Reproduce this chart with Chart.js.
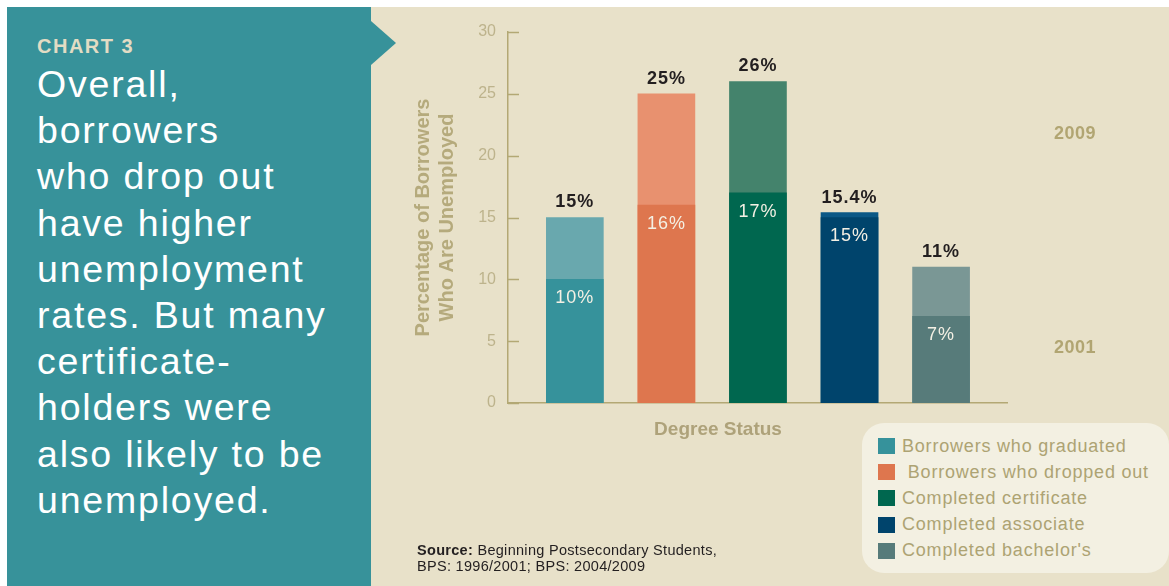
<!DOCTYPE html>
<html>
<head>
<meta charset="utf-8">
<script src="https://cdn.jsdelivr.net/npm/chart.js@4.4.0/dist/chart.umd.min.js"></script>
<style>
  body { margin: 0; width: 1169px; height: 586px; background: #fff; position: relative; overflow: hidden;
         font-family: "Liberation Sans", Arial, sans-serif; }
  #side { position: absolute; left: 7px; top: 7px; width: 364px; height: 579px; background: #37929a; }
  #panel { position: absolute; left: 371px; top: 7px; width: 798px; height: 579px; background: #e8e1c9; }
  #arrow { position: absolute; left: 371px; top: 21px; width: 0; height: 0;
           border-top: 22.5px solid transparent; border-bottom: 22.5px solid transparent; border-left: 25px solid #37929a; }
  #kicker { position: absolute; left: 37px; top: 36px; font-size: 20px; line-height: 20px; font-weight: bold;
            letter-spacing: 1.5px; color: #e2dcc4; }
  #headline { position: absolute; left: 37px; top: 61px; font-size: 37.5px; line-height: 46.2px; letter-spacing: 1.8px; color: #fff; }
  canvas { position: absolute; left: 0; top: 0; }
  .note { position: absolute; color: #b1a572; font-weight: bold; }
  #xtitle { left: 618px; top: 418px; width: 200px; text-align: center; font-size: 19px; line-height: 22px; color: #aea27a; }
  .year { left: 1035px; width: 80px; text-align: center; font-size: 18px; line-height: 20px; letter-spacing: 0.5px; }
  #source { position: absolute; left: 417px; top: 543px; font-size: 14.5px; line-height: 15.5px; letter-spacing: 0.3px; color: #231f20; }
  #legend { position: absolute; left: 862px; top: 423px; width: 307px; height: 150px; background: #f3f0e2;
            border-radius: 22px; box-sizing: border-box; padding: 10px 0 0 16px; }
  .item { height: 26.2px; display: flex; align-items: center; font-size: 18px; letter-spacing: 0.8px; color: #ada373; white-space: pre; }
  .swatch { width: 17px; height: 16px; margin-right: 7px; flex: none; }
</style>
</head>
<body>
<div id="side"></div>
<div id="panel"></div>
<div id="arrow"></div>
<div id="kicker">CHART 3</div>
<div id="headline">Overall,<br>borrowers<br>who drop out<br>have higher<br>unemployment<br>rates. But many<br>certificate-<br>holders were<br>also likely to be<br>unemployed.</div>
<canvas id="chart" width="1169" height="586"></canvas>
<div id="xtitle" class="note">Degree Status</div>
<div class="note year" style="top:123px">2009</div>
<div class="note year" style="top:337px">2001</div>
<div id="source"><b>Source:</b> Beginning Postsecondary Students,<br>BPS: 1996/2001; BPS: 2004/2009</div>
<div id="legend"></div>
<script>
// unemployment rate by degree status, 2001 and 2009
const categories = ['Borrowers who graduated', ' Borrowers who dropped out', 'Completed certificate', 'Completed associate', "Completed bachelor's"];
const rate2001 = [10, 16, 17, 15, 7];
const rate2009 = [15, 25, 26, 15.4, 11];
const colors2001 = ['#36929b', '#de764e', '#00674f', '#00446c', '#577b7a'];
const colors2009 = ['#69a8ae', '#e8916f', '#44836c', '#0b5886', '#7a9795'];
const yTicks = [0, 5, 10, 15, 20, 25, 30];

const FONT = '"Liberation Sans", Arial, sans-serif';
const AXIS = '#b3a874';

// legend built from the same category list
const legend = document.getElementById('legend');
categories.forEach((name, i) => {
  const row = document.createElement('div');
  row.className = 'item';
  row.innerHTML = '<span class="swatch" style="background:' + colors2001[i] + '"></span>';
  row.appendChild(document.createTextNode(name));
  legend.appendChild(row);
});

// short tick marks on the inside of the y axis
const innerTicks = {
  id: 'innerTicks',
  afterDraw(chart) {
    const y = chart.scales.y, ctx = chart.ctx, left = chart.chartArea.left;
    ctx.save();
    ctx.strokeStyle = AXIS;
    ctx.lineWidth = 1.5;
    y.ticks.forEach(t => {
      const py = Math.round(y.getPixelForValue(t.value)) + 0.5;
      ctx.beginPath();
      ctx.moveTo(left, py);
      ctx.lineTo(left + 11, py);
      ctx.stroke();
    });
    ctx.restore();
  }
};

// percentages above each bar (2009) and inside the lower segment (2001)
const valueLabels = {
  id: 'valueLabels',
  afterDatasetsDraw(chart) {
    const ctx = chart.ctx;
    const low = chart.getDatasetMeta(0).data;
    const high = chart.getDatasetMeta(1).data;
    ctx.save();
    ctx.textAlign = 'center';
    ctx.textBaseline = 'middle';
    ctx.letterSpacing = '1px';
    ctx.font = 'bold 18px ' + FONT;
    ctx.fillStyle = '#231f20';
    high.forEach((bar, i) => ctx.fillText(rate2009[i] + '%', bar.x, bar.y - 15));
    ctx.font = '18px ' + FONT;
    ctx.fillStyle = '#f4f0e4';
    low.forEach((bar, i) => ctx.fillText(rate2001[i] + '%', bar.x, bar.y + 19));
    ctx.restore();
  }
};

new Chart(document.getElementById('chart'), {
  type: 'bar',
  data: {
    datasets: [
      {
        label: '2001',
        data: rate2001.map((v, i) => ({ x: i, y: v })),
        backgroundColor: colors2001,
        order: 1
      },
      {
        label: '2009',
        data: rate2009.map((v, i) => ({ x: i, y: v })),
        backgroundColor: colors2009,
        order: 2
      }
    ]
  },
  options: {
    responsive: false,
    animation: false,
    events: [],
    datasets: { bar: { grouped: false, barThickness: 57, borderWidth: 0 } },
    layout: { padding: { left: 400, right: 162, top: 32, bottom: 183 } },
    plugins: { legend: { display: false }, tooltip: { enabled: false } },
    scales: {
      x: {
        type: 'linear',
        offset: false,
        min: -0.73,
        max: 4.72,
        ticks: { display: false },
        grid: { display: false, drawTicks: false },
        border: { display: true, color: AXIS, width: 1.5 },
        afterFit: s => { s.height = 0; }
      },
      y: {
        min: 0,
        max: 30,
        afterBuildTicks: s => { s.ticks = yTicks.map(v => ({ value: v })); },
        ticks: { color: '#bdb38c', font: { family: FONT, size: 16 }, padding: 12 },
        grid: { display: false, drawTicks: false },
        border: { display: true, color: AXIS, width: 1.5 },
        title: {
          display: true,
          text: ['Percentage of Borrowers', 'Who Are Unemployed'],
          color: '#b5aa7c',
          font: { family: FONT, size: 20, weight: 'bold' },
          padding: { top: 11, bottom: 0 }
        },
        afterFit: s => { s.width = 108; }
      }
    }
  },
  plugins: [innerTicks, valueLabels]
});
</script>
</body>
</html>
